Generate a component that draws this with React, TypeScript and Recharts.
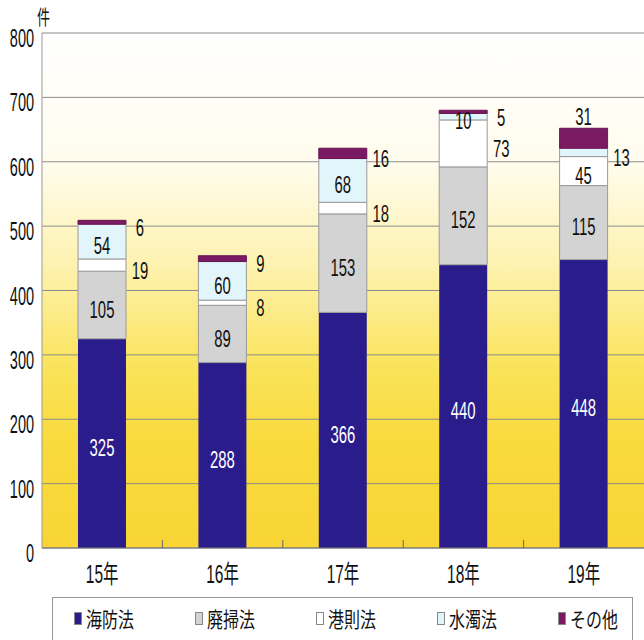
import React from 'react';
import { BarChart, Bar, XAxis, YAxis, CartesianGrid, LabelList } from 'recharts';

const years = ['15年', '16年', '17年', '18年', '19年'];
const kaibou = [325, 288, 366, 440, 448];
const haisou = [105, 89, 153, 152, 115];
const kousoku = [19, 8, 18, 73, 45];
const suidaku = [54, 60, 68, 10, 13];
const sonota = [6, 9, 16, 5, 31];
const yTicks = [0, 100, 200, 300, 400, 500, 600, 700, 800];

const seriesKeys = ['kaibou', 'haisou', 'kousoku', 'suidaku', 'sonota'];
const seriesNames = ['海防法', '廃掃法', '港則法', '水濁法', 'その他'];
const colors = ['#2b1c8c', '#d3d3d3', '#ffffff', '#e2f5fa', '#7a1a62'];
const strokes = ['none', '#9a9a9a', '#9a9a9a', '#9a9a9a', '#6a1555'];

const data = years.map((year, i) => ({
  year,
  kaibou: kaibou[i],
  haisou: haisou[i],
  kousoku: kousoku[i],
  suidaku: suidaku[i],
  sonota: sonota[i],
}));

const FONT = "'Liberation Sans', Arial, 'Noto Sans CJK JP', sans-serif";

// scanned chart uses a very condensed face, so squeeze horizontally
const Narrow = ({ x, y, children, anchor = 'middle', fill = '#111', size = 24, sx = 0.62 }: any) => (
  <text
    transform={`translate(${x},${y}) scale(${sx},1)`}
    textAnchor={anchor}
    fontSize={size}
    fill={fill}
    dy="0.36em"
    fontFamily={FONT}
  >
    {children}
  </text>
);

const placement = (key: string, index: number) => {
  if (key === 'kaibou' || key === 'haisou') return 'in';
  if (key === 'kousoku') return index === 4 ? 'in' : 'right';
  if (key === 'suidaku') return index === 4 ? 'right' : 'in';
  return index === 4 ? 'top' : 'right';
};

const makeLabel = (key: string) => (props: any) => {
  const { x, y, width, height, value, index } = props;
  const place = placement(key, index);
  const cx = x + width / 2;
  if (place === 'in') {
    return <Narrow x={cx} y={y + height / 2 + 4} fill={key === 'kaibou' ? '#fff' : '#111'}>{value}</Narrow>;
  }
  if (place === 'top') {
    return <Narrow x={cx} y={y - 12}>{value}</Narrow>;
  }
  return <Narrow x={x + width + 14} y={y + height / 2 + 5}>{value}</Narrow>;
};

const YTick = ({ x, y, payload }: any) => (
  <Narrow x={x - 8} y={y + 5} anchor="end" sx={0.58} size={25}>{payload.value}</Narrow>
);

const XTick = ({ x, y, payload, index }: any) => (
  <g>
    {index < 4 && <line x1={x + 60.2} x2={x + 60.2} y1={y} y2={y - 8} stroke="#666" strokeWidth={1} />}
    <Narrow x={x} y={y + 26} size={25}>{payload.value}</Narrow>
  </g>
);

export default function App() {
  return (
    <div style={{ position: 'absolute', left: 0, top: 0, width: 644, height: 640, background: '#fff', overflow: 'hidden' }}>
      <BarChart width={644} height={600} data={data} margin={{ top: 33, right: 0, left: 0, bottom: 12 }}>
        <defs>
          <linearGradient id="bgGrad" x1="0" y1="0" x2="0" y2="1">
            <stop offset="0" stopColor="#ffffff" />
            <stop offset="0.25" stopColor="#fffcee" />
            <stop offset="0.45" stopColor="#fdf2b0" />
            <stop offset="0.65" stopColor="#fae35a" />
            <stop offset="0.8" stopColor="#f9da3c" />
            <stop offset="1" stopColor="#f8d535" />
          </linearGradient>
        </defs>
        <CartesianGrid vertical={false} stroke="#8c8c8c" fill="url(#bgGrad)" fillOpacity={1} />
        <XAxis
          dataKey="year"
          height={40}
          tickLine={false}
          tickSize={0}
          tickMargin={0}
          axisLine={{ stroke: '#777' }}
          tick={<XTick />}
          interval={0}
        />
        <YAxis
          width={42}
          domain={[0, 800]}
          ticks={yTicks}
          tickLine={false}
          tickSize={0}
          tickMargin={0}
          axisLine={{ stroke: '#999' }}
          tick={<YTick />}
          interval={0}
        />
        {seriesKeys.map((key, i) => (
          <Bar
            key={key}
            dataKey={key}
            name={seriesNames[i]}
            stackId="a"
            barSize={48}
            fill={colors[i]}
            stroke={strokes[i]}
            strokeWidth={1}
            isAnimationActive={false}
          >
            <LabelList dataKey={key} content={makeLabel(key)} />
          </Bar>
        ))}
      </BarChart>
      <div
        style={{
          position: 'absolute', left: 37, top: 2, fontSize: 20, fontFamily: FONT,
          transform: 'scaleX(0.65)', transformOrigin: 'left top', color: '#111',
        }}
      >
        件
      </div>
      <div
        style={{
          position: 'absolute', left: 52, top: 597, width: 581, height: 60,
          border: '1px solid #999', background: '#fff', boxSizing: 'border-box',
        }}
      >
        {seriesNames.map((name, i) => (
          <div
            key={name}
            style={{
              position: 'absolute', left: 21 + i * 121, top: 5, display: 'flex', alignItems: 'center',
              fontFamily: "'Noto Sans CJK JP', sans-serif", fontSize: 21, color: '#111', whiteSpace: 'nowrap',
            }}
          >
            <span
              style={{
                display: 'inline-block', width: 8, height: 13, background: colors[i],
                border: '1px solid #888', boxSizing: 'border-box', marginRight: 4,
              }}
            />
            <span style={{ display: 'inline-block', transform: 'scaleX(0.76)', transformOrigin: 'left center' }}>{name}</span>
          </div>
        ))}
      </div>
    </div>
  );
}
